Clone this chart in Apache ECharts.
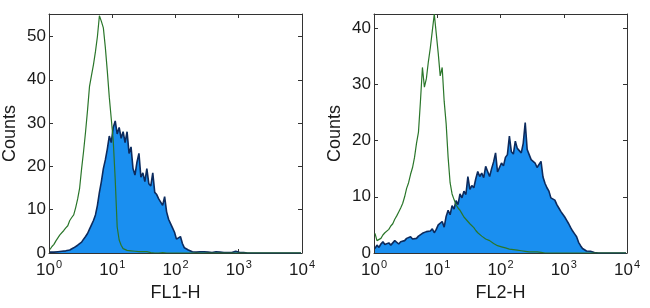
<!DOCTYPE html>
<html><head><meta charset="utf-8">
<script src="https://cdn.jsdelivr.net/npm/echarts@6/dist/echarts.min.js"></script>
<style>html,body{margin:0;padding:0;background:#fff}#c{width:650px;height:308px}</style>
</head><body><div id="c"></div>
<script>
// histogram channels: 32 bins per decade over 10^0 .. 10^4
const binsPerDecade = 32;
const xMin = 1, xMax = 10000;
const yTicksLeft = [0, 10, 20, 30, 40, 50];
const yTicksRight = [0, 10, 20, 30, 40];
const xTitles = ['FL1-H', 'FL2-H'];
const yTitle = 'Counts';

// FL1 panel
const fl1Isotype = [
0.8,1.5,2.0,2.8,3.5,4.2,4.5,5.2,5.8,6.3,
7.5,8.2,8.8,10.5,12.5,15.0,19.5,23.5,28.0,33.0,
38.5,41.0,43.5,46.5,50.0,54.8,53.5,52.0,47.5,42.0,
36.0,31.0,26.0,17.0,6.0,3.0,1.8,1.0,0.8,0.6,
0.7,0.5,0.6,0.4,0.5,0.3,0.4,0.3,0.2,0.3,
0.2,0.1,0.1,0,0.1,0,0,0.1,0,0,
0,0,0,0,0,0,0,0,0,0,
0,0,0,0,0,0,0,0,0,0,
0,0,0,0,0,0,0,0,0,0,
0,0,0,0,0,0,0,0,0,0,
0,0,0,0,0,0,0,0,0,0,
0,0,0,0,0,0,0,0,0,0,
0,0,0,0,0,0,0,0];
const fl1Stained = [
0.2,0.3,0.2,0.4,0.3,0.5,0.4,0.6,0.5,0.8,
0.7,1.0,1.2,1.4,1.8,2.0,2.5,3.2,3.8,4.5,
5.5,6.5,7.5,8.8,11.0,14.0,16.5,19.5,21.5,24.0,
27.0,25.5,29.0,30.5,27.5,29.0,26.5,28.0,25.5,28.0,
23.0,24.5,19.5,18.0,21.0,23.0,17.5,18.5,16.5,19.5,
16.0,15.5,18.5,14.0,13.5,12.5,12.5,11.0,13.0,9.5,
7.8,6.8,5.8,4.8,3.2,3.5,3.8,2.2,1.2,0.8,
0.7,0.4,0.3,0.4,0.2,0.3,0.3,0.2,0.3,0.2,
0.2,0.3,0.1,0.2,0.3,0.1,0.2,0.1,0.1,0.2,
0.1,0.3,0.1,0.2,0.4,0.8,0.1,0,0.1,0,
0,0,0,0,0,0,0,0,0,0,
0,0,0,0,0,0,0,0,0,0,
0,0,0,0,0,0,0,0];

// FL2 panel
const fl2Isotype = [
3.5,2.2,2.0,2.6,3.2,3.6,3.4,4.2,4.8,5.2,
6.0,6.6,7.3,8.0,8.8,10.0,11.5,12.5,14.0,15.2,
17.0,19.5,21.5,27.0,33.0,29.5,31.0,34.0,36.5,39.5,
42.5,39.0,35.5,31.5,33.0,27.0,23.0,17.0,12.5,10.5,
9.5,8.6,8.0,7.6,7.0,6.4,6.0,5.6,5.2,4.9,
4.5,4.0,3.6,3.4,3.0,2.8,2.5,2.4,2.2,1.9,
1.7,1.5,1.3,1.2,1.1,1.0,0.9,0.8,0.7,0.7,
0.6,0.5,0.5,0.4,0.4,0.3,0.3,0.3,0.2,0.2,
0.2,0.1,0.2,0.1,0.1,0.1,0,0,0,0,
0,0,0,0,0,0,0,0,0,0,
0,0,0,0,0,0,0,0,0,0,
0,0,0,0,0,0,0,0,0,0,
0,0,0,0,0,0,0,0];
const fl2Stained = [
0.8,1.4,1.0,1.6,2.0,1.5,1.3,1.8,1.4,1.6,
2.2,1.9,1.6,2.0,1.7,2.2,2.6,2.3,2.9,2.5,
2.2,2.6,3.0,2.7,3.5,3.3,3.8,4.1,3.9,4.3,
3.6,4.2,5.0,4.7,5.6,4.6,6.5,7.6,6.8,8.4,
7.8,9.3,8.6,10.5,9.8,11.0,10.4,13.6,11.3,12.0,
11.6,13.2,14.5,13.6,14.2,13.4,15.4,14.5,13.6,15.0,
16.2,17.8,14.4,15.2,16.0,15.5,17.0,17.5,20.8,18.0,
17.6,19.9,18.6,18.2,17.8,19.5,23.2,18.4,17.5,16.6,
16.8,16.0,15.2,15.5,16.3,13.5,12.4,11.6,11.0,9.8,
10.1,9.4,8.6,8.0,7.4,6.9,6.4,5.8,5.2,4.5,
3.9,3.4,2.9,1.9,1.3,0.8,0.5,0.35,0.3,0.3,
0.3,0.1,0,0,0,0,0,0,0,0,
0,0,0,0,0,0,0,0];

const FONT = '"Liberation Sans", Arial, sans-serif';
const AXIS_COLOR = '#333333';
const TEXT_COLOR = '#1a1a1a';
const FILL = '#1a8ff0';
const OUTLINE = '#0c2b5e';
const GREEN = '#2a762a';

function pairs(arr) {
  return arr.map((v, i) => [Math.pow(10, (i + 0.5) / binsPerDecade), v]);
}

const panels = [
  { left: 49, yMax: 55.2, ticks: yTicksLeft, iso: fl1Isotype, st: fl1Stained, title: xTitles[0] },
  { left: 374, yMax: 42.5, ticks: yTicksRight, iso: fl2Isotype, st: fl2Stained, title: xTitles[1] }
];

const grid = [], xAxis = [], yAxis = [], series = [];
panels.forEach((p, k) => {
  grid.push({ left: p.left, top: 14, width: 253, height: 239, containLabel: false });
  const lineStyle = { color: AXIS_COLOR, width: 1 };
  xAxis.push({
    type: 'log', logBase: 10, min: xMin, max: xMax, gridIndex: k,
    position: 'bottom',
    name: p.title, nameLocation: 'middle', nameGap: 31,
    nameTextStyle: { fontFamily: FONT, fontSize: 18, color: TEXT_COLOR },
    axisLine: { lineStyle, onZero: false },
    axisTick: { inside: true, length: 4, lineStyle },
    splitLine: { show: false }, minorTick: { show: false },
    axisLabel: {
      margin: 6, color: TEXT_COLOR,
      formatter: v => '{b|10}{s|' + Math.round(Math.log10(v)) + '}',
      rich: {
        b: { fontFamily: FONT, fontSize: 17, color: TEXT_COLOR, lineHeight: 20, verticalAlign: 'bottom' },
        s: { fontFamily: FONT, fontSize: 11, color: TEXT_COLOR, lineHeight: 20, verticalAlign: 'top', padding: [0, 0, 0, 1] }
      }
    }
  });
  xAxis.push({
    type: 'log', logBase: 10, min: xMin, max: xMax, gridIndex: k,
    position: 'top',
    axisLine: { lineStyle, onZero: false },
    axisTick: { inside: true, length: 4, lineStyle },
    axisLabel: { show: false }, splitLine: { show: false }
  });
  yAxis.push({
    type: 'value', min: 0, max: p.yMax, interval: 10, gridIndex: k,
    position: 'left',
    name: yTitle, nameLocation: 'middle', nameGap: 30, nameRotate: 90,
    nameTextStyle: { fontFamily: FONT, fontSize: 18, color: TEXT_COLOR },
    axisLine: { show: true, lineStyle, onZero: false },
    axisTick: { show: true, inside: true, length: 4, lineStyle },
    splitLine: { show: false },
    axisLabel: {
      margin: 3, fontFamily: FONT, fontSize: 17, color: TEXT_COLOR,
      formatter: v => (p.ticks.indexOf(v) >= 0 ? String(v) : '')
    }
  });
  yAxis.push({
    type: 'value', min: 0, max: p.yMax, interval: 10, gridIndex: k,
    position: 'right',
    axisLine: { show: true, lineStyle, onZero: false },
    axisTick: { show: true, inside: true, length: 4, lineStyle },
    axisLabel: { show: false }, splitLine: { show: false }
  });
  series.push({
    type: 'line', xAxisIndex: 2 * k, yAxisIndex: 2 * k,
    data: pairs(p.st), showSymbol: false, symbol: 'none',
    lineStyle: { color: OUTLINE, width: 1.6 },
    areaStyle: { color: FILL, opacity: 1, origin: 'start' },
    z: 2, animation: false
  });
  series.push({
    type: 'line', xAxisIndex: 2 * k, yAxisIndex: 2 * k,
    data: pairs(p.iso), showSymbol: false, symbol: 'none',
    lineStyle: { color: GREEN, width: 1.2 },
    z: 3, animation: false
  });
});

const chart = echarts.init(document.getElementById('c'), null, { renderer: 'canvas' });
chart.setOption({ animation: false, backgroundColor: '#fff', grid, xAxis, yAxis, series });
</script>
</body></html>
